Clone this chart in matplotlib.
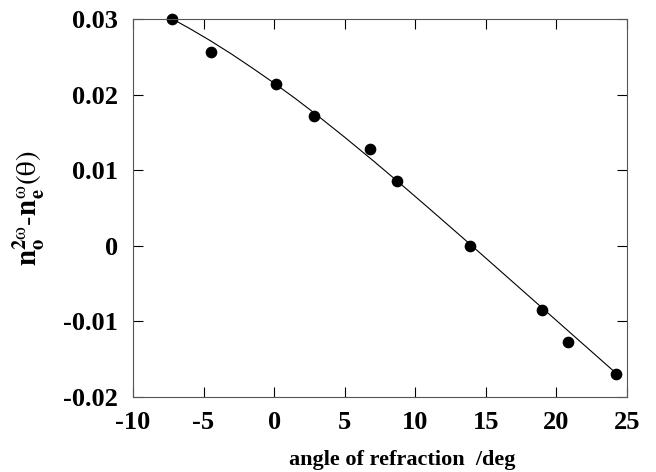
import matplotlib
matplotlib.use('Agg')
import matplotlib.pyplot as plt

angle = [-7.2, -4.5, 0.1, 2.8, 6.8, 8.7, 13.9, 19.0, 20.8, 24.2]
dn = [0.0300, 0.0257, 0.0214, 0.0171, 0.0128, 0.0086, 0.0000, -0.0085, -0.0127, -0.0170]

# fitted curve
curve_angle = [-7.2, -6.0, -4.5, -3.0, -1.5, 0.1, 1.5, 3.0, 5.0, 7.0, 9.0, 11.0, 13.9,
               16.5, 19.0, 21.5, 24.2]
curve_dn = [0.03000, 0.02876, 0.02711, 0.02534, 0.02346, 0.02138, 0.01948, 0.01733,
            0.01435, 0.01127, 0.00811, 0.00489, 0.00016, -0.00413, -0.00826,
            -0.01239, -0.01685]

xticks = [-10, -5, 0, 5, 10, 15, 20, 25]
yticks = [-0.02, -0.01, 0, 0.01, 0.02, 0.03]
ytick_labels = ['-0.02', '-0.01', '0', '0.01', '0.02', '0.03']

plt.rcParams['font.family'] = ['Liberation Serif', 'DejaVu Serif']
plt.rcParams['mathtext.fontset'] = 'stix'

fig = plt.figure(figsize=(6.56, 4.72), dpi=100)
ax = fig.add_axes([0.2027, 0.1595, 0.7531, 0.8002])

ax.plot(curve_angle, curve_dn, color='black', lw=0.8)
ax.plot(angle, dn, 'o', color='black', ms=7.4, clip_on=False)

ax.set_xlim(-10, 25)
ax.set_ylim(-0.02, 0.03)
ax.set_xticks(xticks)
ax.set_xticklabels([str(t) for t in xticks])
ax.set_yticks(yticks)
ax.set_yticklabels(ytick_labels)

ax.tick_params(direction='in', length=7, width=0.8, top=True, right=True,
               labelsize=19)
ax.tick_params(axis='x', pad=10)
ax.tick_params(axis='y', pad=11)
for lab in ax.get_xticklabels() + ax.get_yticklabels():
    lab.set_fontweight('bold')
for s in ax.spines.values():
    s.set_linewidth(0.8)
    s.set_color('#555555')

ax.set_xlabel('angle of refraction  /deg', fontsize=16, fontweight='bold')
ax.xaxis.set_label_coords(0.545, -0.14)
ax.set_ylabel(r'$\mathbf{n}_\mathbf{o}^{\mathbf{2}\mathrm{\omega}}\mathbf{\text{-}n}_\mathbf{e}^{\mathrm{\omega}}(\mathrm{\theta})$',
              fontsize=21)
ax.yaxis.set_label_coords(-0.175, 0.5)

fig.savefig('out.png', dpi=100)
